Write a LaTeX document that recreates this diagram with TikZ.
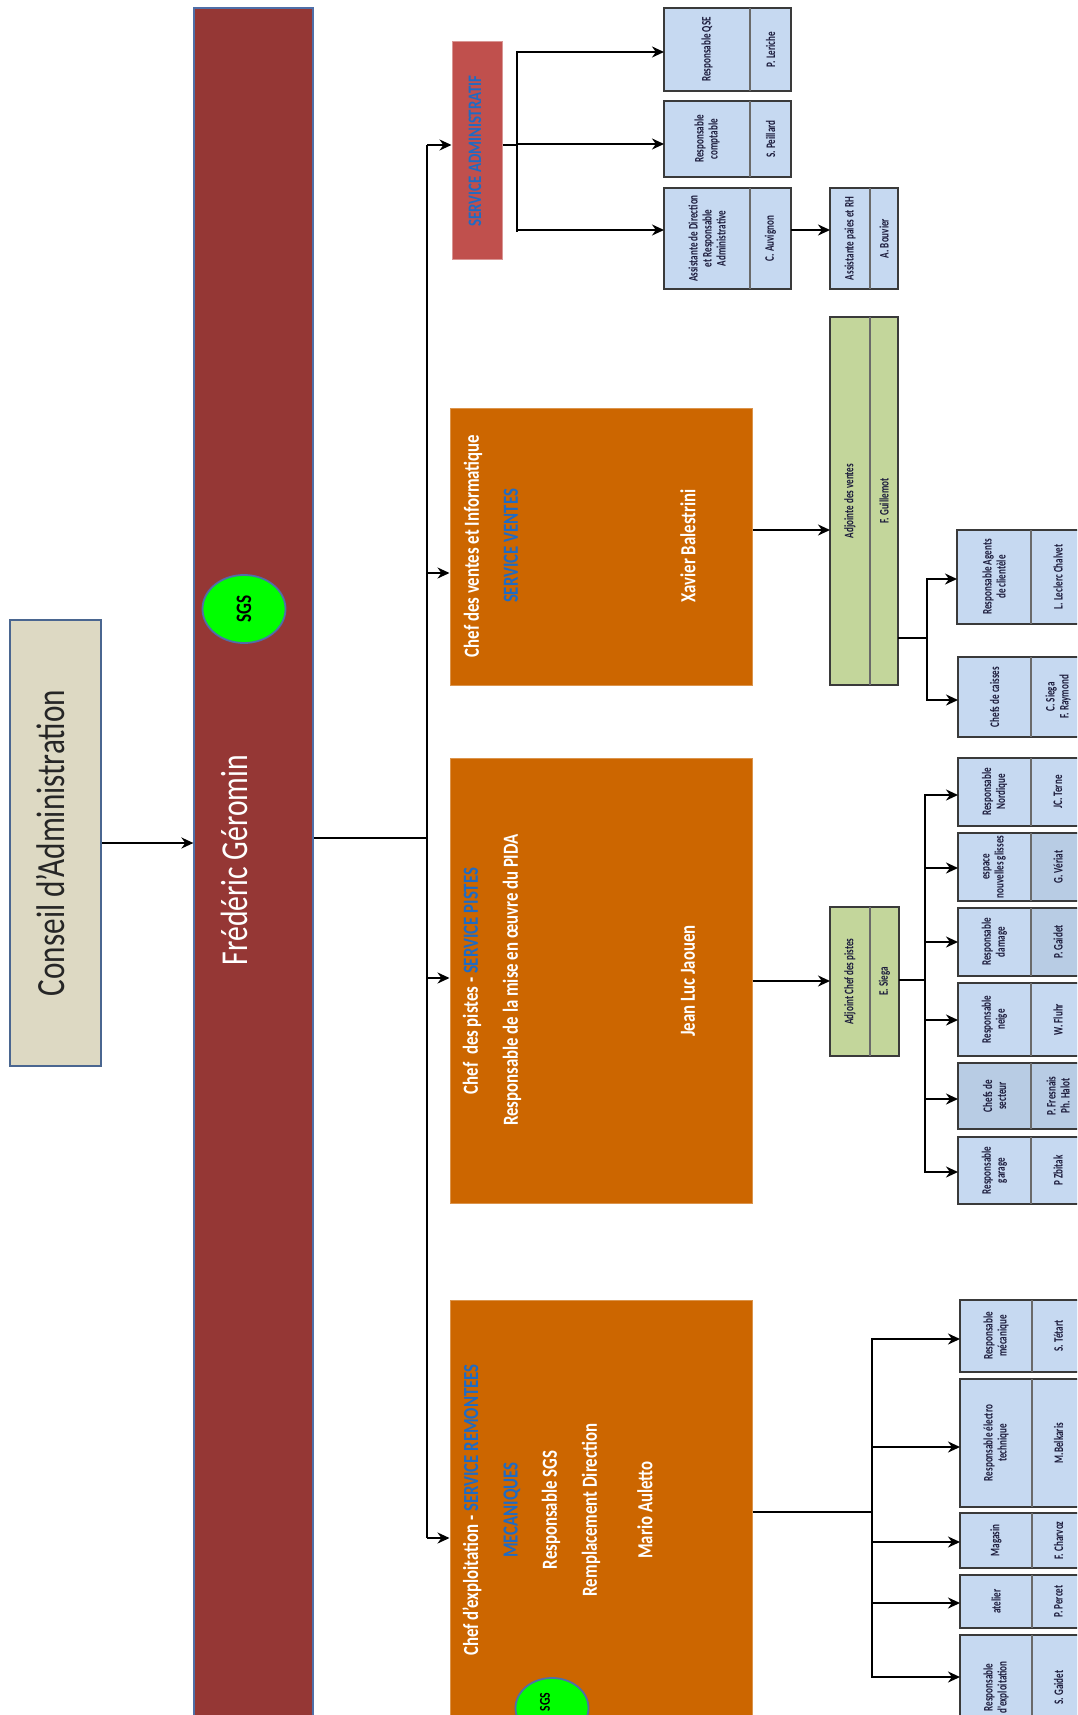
\documentclass[tikz,border=0pt]{standalone}
\usepackage{fontspec}
\setmainfont[FakeStretch=0.78]{Carlito}
\newfontfamily\smallfam[FakeStretch=0.7]{Carlito}
\usetikzlibrary{arrows.meta,fit,calc,shapes.geometric}
\definecolor{fredred}{HTML}{953735}
\definecolor{conseilbg}{HTML}{DDD9C3}
\definecolor{conseilbd}{HTML}{4A6690}
\definecolor{adminred}{HTML}{C0504D}
\definecolor{orangebg}{HTML}{CC6600}
\definecolor{svcblue}{HTML}{1F6BC4}
\definecolor{boxblue}{HTML}{C6D9F1}
\definecolor{boxdark}{HTML}{B8CCE4}
\definecolor{boxgreen}{HTML}{C3D69B}
\definecolor{boxline}{HTML}{3A3A3A}
\definecolor{divgray}{HTML}{6A6A6A}
\definecolor{navytxt}{HTML}{1C1C3C}
\definecolor{sgsgreen}{HTML}{00FF00}
\definecolor{sgsbd}{HTML}{4F6FA8}
\tikzset{
  arr/.style={line width=2.4pt,-{Stealth[length=12pt,width=11pt]}},
  conn/.style={line width=2.4pt},
  smallbox/.style={inner sep=0pt,outer sep=0pt,draw=none},
  divline/.style={draw=divgray,line width=1.6pt},
  smalltxt/.style={font=\smallfam\bfseries\fontsize{13}{14}\selectfont,text=navytxt,align=center,inner sep=1pt,rotate=90},
  orangebox/.style={fill=orangebg,draw=orangebg!70!white,line width=1pt,inner sep=0pt},
  wtxt/.style={font=\bfseries\fontsize{21.5}{26}\selectfont,text=white,rotate=90,inner sep=0pt},
  btxt/.style={font=\bfseries\fontsize{21.5}{26}\selectfont,text=svcblue,rotate=90,inner sep=0pt},
  sgs/.style={ellipse,fill=sgsgreen,draw=sgsbd,line width=1.8pt,inner sep=0pt},
  sgstxt/.style={font=\bfseries\fontsize{22}{24}\selectfont,rotate=90,inner sep=0pt}
}
\newcommand\leftfill{boxblue}
\newcommand\twobox[9][boxblue]{%
  \node[smallbox,fill=\leftfill,fit={(#3,#4) (#5,#6)}] (#2) {};
  \fill[#1] (#7,#4) rectangle (#5,#6);
  \draw[boxline,line width=1.8pt] (#2.south west) rectangle (#2.north east);
  \draw[divline] (#7,#4) -- (#7,#6);
  \node[smalltxt] (#2-t) at ($(#3,#4)!0.5!(#7,#6)$) {#8};
  \node[smalltxt] (#2-p) at ($(#7,#4)!0.5!(#5,#6)$) {#9};
}
\begin{document}
\begin{tikzpicture}[x=1pt,y=-1pt]
\useasboundingbox (0,0) rectangle (1077,1715);
\clip (0,0) rectangle (1077,1715);
\fill[white] (0,0) rectangle (1077,1715);

% Conseil
\node[fill=conseilbg,draw=conseilbd,line width=2.5pt,inner sep=0pt,fit={(10,620) (101,1066)}] (conseil) {};
\node[font=\fontsize{40}{46}\selectfont,text=black!85,rotate=90,inner sep=0pt] (conseil-t) at (51,843) {Conseil d'Administration};

% Frederic bar
\node[fill=fredred,draw=sgsbd,line width=1.2pt,inner sep=0pt,fit={(194,8) (313,1740)}] (fred) {};
\node[font=\fontsize{38}{44}\selectfont,text=white,rotate=90,inner sep=0pt] (fred-t) at (234,860) {Frédéric Géromin};
\node[sgs,minimum width=83pt,minimum height=68pt] (sgs1) at (244,609) {};
\node[sgstxt] (sgs1-t) at (sgs1) {SGS};

\draw[arr] (conseil.east |- 0,843) -- (fred.west |- 0,843);

% trunk
\coordinate (ttop) at (427,145);
\coordinate (tbot) at (427,1538);
\coordinate (tmid) at (427,838);
\draw[conn] (fred.east |- tmid) -- (tmid);
\draw[conn] (ttop) -- (tbot);

% Service administratif
\node[fill=adminred,draw=adminred!60!white,line width=1pt,inner sep=0pt,fit={(452,42) (502,259)}] (admin) {};
\node[font=\bfseries\fontsize{19}{22}\selectfont,text=svcblue,rotate=90,inner sep=0pt] (admin-t) at (475,151) {SERVICE ADMINISTRATIF};
\draw[arr] (ttop) -- (admin.west |- ttop);

\twobox{qse}{664}{8}{791}{91}{750}{Responsable QSE}{P. Leriche}
\twobox{compta}{664}{101}{791}{177}{750}{Responsable\\comptable}{S. Peillard}
\twobox{assdir}{664}{188}{791}{289}{750}{Assistante de Direction\\et Responsable\\Administrative}{C. Auvignon}
\twobox{assrh}{830}{188}{898}{289}{870}{Assistante paies et RH}{A. Bouvier}

\coordinate (abr) at (517,145);
\draw[conn] (admin.east |- abr) -- (abr);
\draw[conn] (517,51) -- (517,232);
\draw[arr] (517,52) -- (qse.west |- 0,52);
\draw[arr] (517,144) -- (compta.west |- 0,144);
\draw[arr] (517,230) -- (assdir.west |- 0,230);
\draw[arr] (assdir.east |- 0,230) -- (assrh.west |- 0,230);

% Service ventes
\node[orangebox,fit={(450,408) (752,685)}] (ventes) {};
\node[wtxt] (ventes-a) at (473,546) {Chef des ventes et Informatique};
\node[btxt] (ventes-b) at (511,546) {SERVICE VENTES};
\node[wtxt] (ventes-c) at (688,546) {Xavier Balestrini};
\draw[arr] (427,573) -- (ventes.west |- 0,573);

\renewcommand\leftfill{boxgreen}
\twobox[boxgreen]{adjv}{830}{317}{898}{685}{870}{Adjointe des ventes}{F. Guillemot}
\renewcommand\leftfill{boxblue}
\draw[arr] (ventes.east |- 0,530) -- (adjv.west |- 0,530);

\twobox{agents}{957}{530}{1085}{624}{1031}{Responsable Agents\\de clientèle}{L. Leclerc Chalvet}
\twobox{caisses}{958}{657}{1085}{737}{1031}{Chefs de caisses}{C. Siega\\F. Raymond}
\draw[conn] (adjv.east |- 0,638) -- (927,638);
\draw[conn] (927,578) -- (927,701);
\draw[arr] (927,579) -- (agents.west |- 0,579);
\draw[arr] (927,700) -- (caisses.west |- 0,700);

% Service pistes
\node[orangebox,fit={(450,758) (752,1203)}] (pistes) {};
\node[wtxt] (pistes-a) at (472,981) {Chef\ \ des pistes - \textcolor{svcblue}{SERVICE PISTES}};
\node[wtxt] (pistes-b) at (512,980) {Responsable de la mise en œuvre du PIDA};
\node[wtxt] (pistes-c) at (688,981) {Jean Luc Jaouen};
\draw[arr] (427,978) -- (pistes.west |- 0,978);

\renewcommand\leftfill{boxgreen}
\twobox[boxgreen]{adjp}{830}{907}{899}{1056}{870}{Adjoint Chef des pistes}{E. Siega}
\renewcommand\leftfill{boxblue}
\draw[arr] (pistes.east |- 0,981) -- (adjp.west |- 0,981);

\twobox{nordique}{958}{758}{1085}{826}{1031}{Responsable\\Nordique}{JC. Terne}
\twobox[boxdark]{glisses}{958}{833}{1085}{901}{1031}{espace\\nouvelles glisses}{G. Vériat}
\twobox[boxdark]{damage}{958}{908}{1085}{976}{1031}{Responsable\\damage}{P. Gaidet}
\twobox{neige}{958}{983}{1085}{1056}{1031}{Responsable\\neige}{W. Fluhr}
\renewcommand\leftfill{boxdark}
\twobox[boxdark]{secteur}{958}{1063}{1085}{1129}{1031}{Chefs de\\secteur}{P. Fresnais\\Ph. Halot}
\renewcommand\leftfill{boxblue}
\twobox{garage}{958}{1137}{1085}{1204}{1031}{Responsable\\garage}{P Zbitak}

\draw[conn] (adjp.east |- 0,980) -- (925,980);
\draw[conn] (925,794) -- (925,1173);
\draw[arr] (925,795) -- (nordique.west |- 0,795);
\draw[arr] (925,868) -- (glisses.west |- 0,868);
\draw[arr] (925,942) -- (damage.west |- 0,942);
\draw[arr] (925,1020) -- (neige.west |- 0,1020);
\draw[arr] (925,1099) -- (secteur.west |- 0,1099);
\draw[arr] (925,1172) -- (garage.west |- 0,1172);

% Service remontees
\node[orangebox,fit={(450,1300) (752,1740)}] (remont) {};
\node[wtxt] (remont-a) at (472,1510) {Chef d'exploitation - \textcolor{svcblue}{SERVICE REMONTEES}};
\node[btxt] (remont-b) at (512,1510) {MECANIQUES};
\node[wtxt] (remont-c) at (551,1510) {Responsable SGS};
\node[wtxt] (remont-d) at (591,1510) {Remplacement Direction};
\node[wtxt] (remont-e) at (645,1510) {Mario Auletto};
\node[sgs,minimum width=73pt,minimum height=60pt] (sgs2) at (552,1708) {};
\node[font=\bfseries\fontsize{15}{17}\selectfont,rotate=90,inner sep=0pt] (sgs2-t) at (545,1702) {SGS};
\draw[arr] (tbot) -- (remont.west |- tbot);

\twobox{meca}{960}{1300}{1085}{1372}{1032}{Responsable\\mécanique}{S. Tétart}
\twobox{electro}{960}{1379}{1085}{1507}{1032}{Responsable électro\\technique}{M.Belkaris}
\twobox{magasin}{960}{1513}{1085}{1568}{1032}{Magasin}{F. Charvoz}
\twobox{atelier}{960}{1575}{1085}{1628}{1032}{atelier}{P. Percet}
\twobox{rexpl}{960}{1635}{1085}{1740}{1032}{Responsable\\d'exploitation}{S. Gaidet}

\draw[conn] (remont.east |- 0,1512) -- (872,1512);
\draw[conn] (872,1338) -- (872,1678);
\draw[arr] (872,1339) -- (meca.west |- 0,1339);
\draw[arr] (872,1447) -- (electro.west |- 0,1447);
\draw[arr] (872,1542) -- (magasin.west |- 0,1542);
\draw[arr] (872,1603) -- (atelier.west |- 0,1603);
\draw[arr] (872,1677) -- (rexpl.west |- 0,1677);
\end{tikzpicture}
\end{document}
